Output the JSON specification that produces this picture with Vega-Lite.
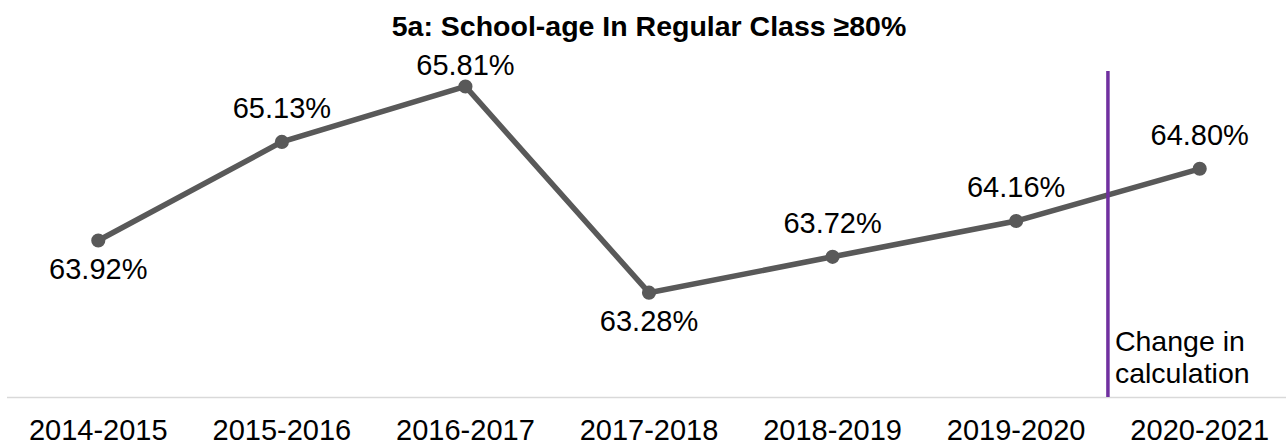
{
  "$schema": "https://vega.github.io/schema/vega-lite/v6.json",
  "width": 1285,
  "height": 326,
  "autosize": {"type": "none"},
  "padding": {"left": 6.5, "top": 71, "right": 0, "bottom": 50},
  "background": "white",
  "title": {
    "text": "5a: School-age In Regular Class ≥80%",
    "font": "Liberation Sans",
    "fontSize": 28.5,
    "fontWeight": "bold",
    "color": "#000000",
    "anchor": "middle",
    "frame": "group",
    "offset": 11
  },
  "config": {
    "view": {"stroke": null},
    "axisX": {
      "title": null,
      "labelAngle": 0,
      "labelFont": "Liberation Sans",
      "labelFontSize": 29,
      "labelColor": "#000000",
      "ticks": false,
      "grid": false,
      "domainColor": "#d9d9d9",
      "domainWidth": 1.5,
      "labelPadding": 19
    }
  },
  "data": {
    "values": [
      {"year": "2014-2015", "value": 0.6392},
      {"year": "2015-2016", "value": 0.6513},
      {"year": "2016-2017", "value": 0.6581},
      {"year": "2017-2018", "value": 0.6328},
      {"year": "2018-2019", "value": 0.6372},
      {"year": "2019-2020", "value": 0.6416},
      {"year": "2020-2021", "value": 0.6480}
    ]
  },
  "layer": [
    {
      "mark": {"type": "line", "color": "#595959", "strokeWidth": 5.5},
      "encoding": {
        "x": {
          "field": "year",
          "type": "ordinal",
          "title": null,
          "scale": {
            "type": "band",
            "paddingInner": 0,
            "paddingOuter": 0,
            "domain": ["2014-2015", "2015-2016", "2016-2017", "2017-2018", "2018-2019", "2019-2020", "2020-2021"]
          }
        },
        "y": {
          "field": "value",
          "type": "quantitative",
          "scale": {"domain": [0.62, 0.66], "nice": false, "zero": false},
          "axis": null
        }
      }
    },
    {
      "mark": {"type": "point", "filled": true, "opacity": 1, "color": "#595959", "size": 200},
      "encoding": {
        "x": {"field": "year", "type": "ordinal", "title": null},
        "y": {"field": "value", "type": "quantitative", "axis": null}
      }
    },
    {
      "transform": [{"filter": {"field": "year", "oneOf": ["2015-2016", "2018-2019", "2019-2020", "2020-2021"]}}],
      "mark": {"type": "text", "font": "Liberation Sans", "fontSize": 29, "color": "#000000", "baseline": "alphabetic", "dy": -24},
      "encoding": {
        "x": {"field": "year", "type": "ordinal", "title": null},
        "y": {"field": "value", "type": "quantitative", "axis": null},
        "text": {"field": "value", "type": "quantitative", "format": ".2%"}
      }
    },
    {
      "transform": [{"filter": {"field": "year", "equal": "2016-2017"}}],
      "mark": {"type": "text", "font": "Liberation Sans", "fontSize": 29, "color": "#000000", "baseline": "alphabetic", "dy": -11},
      "encoding": {
        "x": {"field": "year", "type": "ordinal", "title": null},
        "y": {"field": "value", "type": "quantitative", "axis": null},
        "text": {"field": "value", "type": "quantitative", "format": ".2%"}
      }
    },
    {
      "transform": [{"filter": {"field": "year", "oneOf": ["2014-2015", "2017-2018"]}}],
      "mark": {"type": "text", "font": "Liberation Sans", "fontSize": 29, "color": "#000000", "baseline": "alphabetic", "dy": 38},
      "encoding": {
        "x": {"field": "year", "type": "ordinal", "title": null},
        "y": {"field": "value", "type": "quantitative", "axis": null},
        "text": {"field": "value", "type": "quantitative", "format": ".2%"}
      }
    },
    {
      "transform": [{"filter": {"field": "year", "equal": "2019-2020"}}],
      "mark": {"type": "rule", "color": "#7030A0", "strokeWidth": 3.5},
      "encoding": {
        "x": {"field": "year", "type": "ordinal", "title": null, "bandPosition": 1}
      }
    },
    {
      "transform": [{"filter": {"field": "year", "equal": "2019-2020"}}],
      "mark": {
        "type": "text",
        "font": "Liberation Sans",
        "fontSize": 28.5,
        "color": "#000000",
        "align": "left",
        "baseline": "bottom",
        "lineHeight": 32,
        "dx": 7,
        "dy": -40
      },
      "encoding": {
        "x": {"field": "year", "type": "ordinal", "title": null, "bandPosition": 1},
        "y": {"datum": 0.62, "type": "quantitative", "axis": null},
        "text": {"value": ["Change in", "calculation"]}
      }
    }
  ]
}
